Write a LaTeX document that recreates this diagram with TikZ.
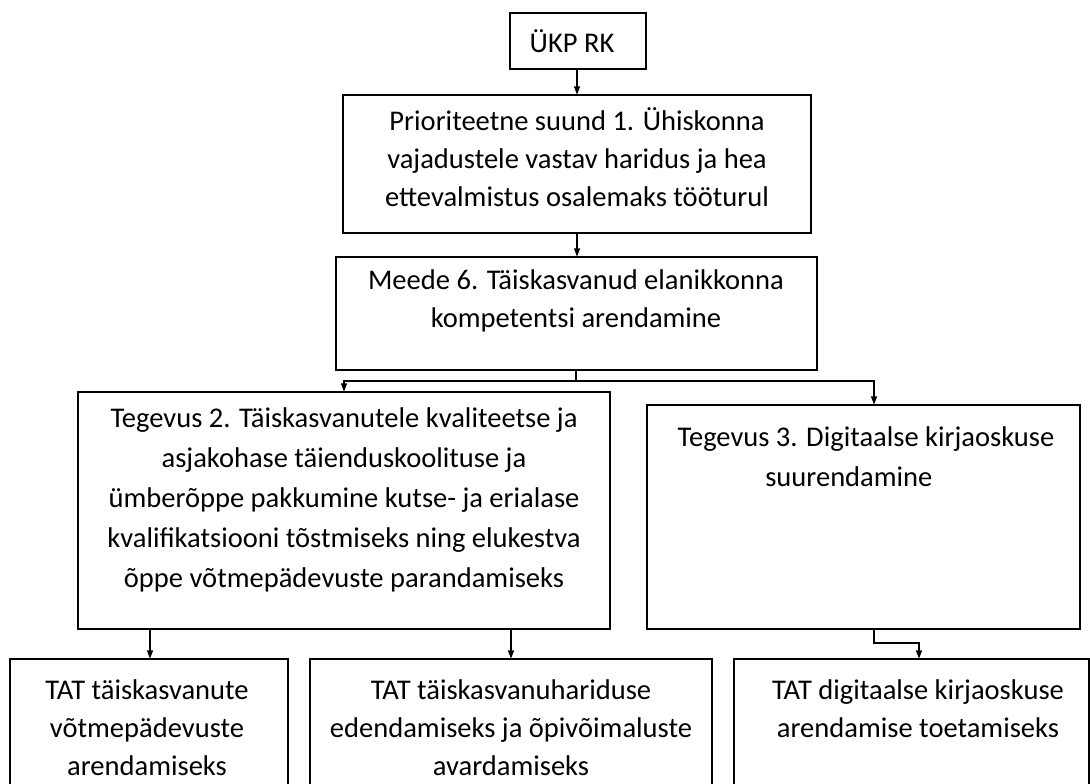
\documentclass[tikz,border=0pt]{standalone}
\usepackage{fontspec}
\setmainfont{Carlito}
\usetikzlibrary{arrows.meta,fit}
\begin{document}
\begin{tikzpicture}[x=0.75pt,y=-0.75pt,
  box/.style={draw, line width=0.8pt, inner sep=0pt},
  lbl/.style={align=center, inner sep=0pt, font=\fontsize{21.4}{28.5}\selectfont},
  arr/.style={line width=0.8pt, -{Triangle[length=6pt,width=4.5pt]}},
  ln/.style={line width=0.8pt}]
\useasboundingbox (0,0) rectangle (1090,783);
\clip (0,0) rectangle (1090,783);
% boxes
\node[box, fit={(510,13) (646,69)}] (ukp) {};
\node[box, fit={(343,95) (811,233)}] (prior) {};
\node[box, fit={(336,257) (817,370)}] (meede) {};
\node[box, fit={(78,392) (610,629)}] (teg2) {};
\node[box, fit={(647,405) (1080,629)}] (teg3) {};
\node[box, fit={(10,659) (288,800)}] (tat1) {};
\node[box, fit={(310,659) (712,800)}] (tat2) {};
\node[box, fit={(734,659) (1089,800)}] (tat3) {};
% texts
\node[lbl] (ukpT) at (572,41) {ÜKP RK};
\node[lbl] (priorT) at (577,157) {Prioriteetne suund 1. Ühiskonna\\vajadustele vastav haridus ja hea\\ettevalmistus osalemaks tööturul};
\node[lbl] (meedeT) at (576,301) {Meede 6. Täiskasvanud elanikkonna\\kompetentsi arendamine};
\node[lbl, font=\fontsize{21.4}{30}\selectfont] (teg2T) at (344,500) {Tegevus 2. Täiskasvanutele kvaliteetse ja\\asjakohase täienduskoolituse ja\\ümberõppe pakkumine kutse- ja erialase\\kvalifikatsiooni tõstmiseks ning elukestva\\õppe võtmepädevuste parandamiseks};
\node[lbl, font=\fontsize{21.4}{30}\selectfont] (teg3T) at (866,457) {Tegevus 3. Digitaalse kirjaoskuse\\suurendamine\hspace*{1.2em}};
\node[lbl] (tat1T) at (147,728) {TAT täiskasvanute\\võtmepädevuste\\arendamiseks};
\node[lbl] (tat2T) at (511,728) {TAT täiskasvanuhariduse\\edendamiseks ja õpivõimaluste\\avardamiseks};
\node[lbl] (tat3T) at (918,709) {TAT digitaalse kirjaoskuse\\arendamise toetamiseks};
% connectors
\coordinate (split) at (576,381);
\coordinate (j3) at (874,381);
\coordinate (b3) at (874,643);
\coordinate (c3) at (919,643);
\draw[arr] (ukp.south -| 577,0) -- (prior.north -| 577,0);
\draw[arr] (prior.south) -- (meede.north -| prior.south);
\draw[ln] (meede.south -| split) -- (split);
\draw[arr] (split) -| (teg2.north);
\draw[arr] (split) -- (j3) -- (j3 |- teg3.north);
\draw[arr] (teg2.south -| 150,0) -- (tat1.north -| 150,0);
\draw[arr] (teg2.south -| tat2.north) -- (tat2.north);
\draw[arr] (teg3.south -| b3) -- (b3) -- (c3) -- (c3 |- tat3.north);
\end{tikzpicture}
\end{document}
